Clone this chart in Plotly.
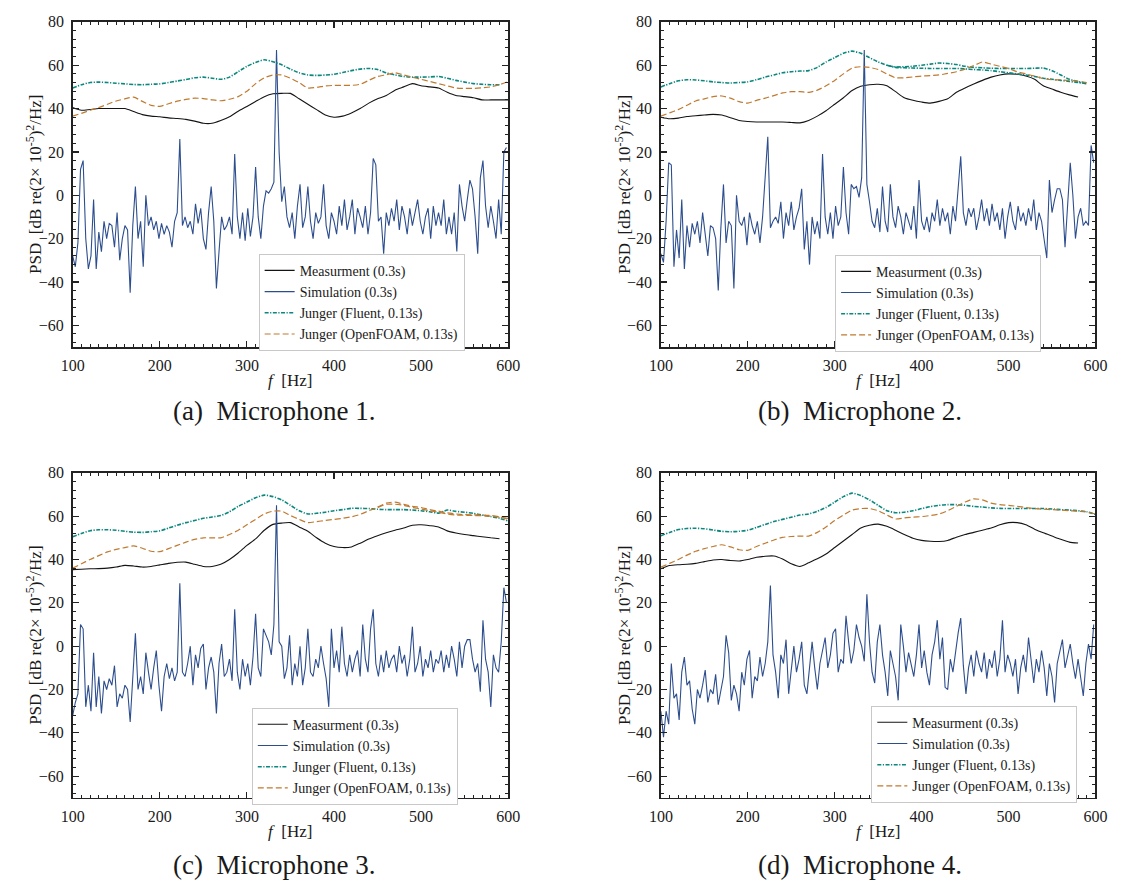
import plotly.graph_objects as go

W, H = 1128, 894

# ---------------- data ----------------
F10 = list(range(100, 601, 10))      # grid of the smooth curves [Hz]
SIM_F = list(range(100, 601, 3))     # grid of the simulated spectra [Hz]

# Microphone 1
meas_a = [40.5, 39.2, 39.6, 40, 40, 40, 40, 38.6, 37.2, 36.5, 36.2, 35.7, 35.4, 35, 34.2, 33.2, 33.2, 34.5, 36.2, 38.8,
          41, 43.3, 45.5, 46.8, 47, 47, 44.5, 42, 39.5, 37, 36, 36.5, 38, 40, 42.5, 44.5, 46, 48.5, 50, 51.5,
          50.5, 50, 49.5, 47.5, 46, 45.5, 45, 44, 44, 44, 44]
flu_a = [49.5, 51, 52, 52.2, 52, 51.7, 51.4, 51.1, 51, 51.2, 51.4, 52, 52.7, 53.4, 54.2, 54.5, 54, 53.5, 54.5, 57,
         59.5, 61.3, 62.5, 61.6, 60.2, 58.2, 56.5, 55.5, 55.3, 55.5, 55.8, 56.6, 57.5, 58.2, 58.5, 58, 56.5, 55.5, 54.8, 54.5,
         54.5, 54.6, 54.8, 54, 53, 52.2, 51.5, 51.2, 51, 51, None]
of_a = [36.5, 37.8, 39.2, 40.5, 42, 43.5, 44.5, 45.3, 43.3, 41.5, 41, 42.2, 43.4, 44.2, 44.8, 44.6, 44, 43.6, 44.3, 45.5,
        48, 51.5, 54.2, 55.5, 55.5, 54, 52, 49.5, 49.8, 50.4, 50.7, 50.7, 50.7, 51.2, 53, 54.8, 55.6, 56.5, 55.5, 54.5,
        53.5, 52.5, 51.5, 50.5, 49.5, 49.3, 49.3, 49.6, 50, 51, 52.5]
sim_a = [-28, -33, -22, 12, 16, -20, -34, -28, -2, -34,
         -17, -26, -12, -20, -13, -14, -24, -8, -30, -20,
         -14, -16, -45, -14, 4, -20, -12, -33, 0, -14,
         -10, -16, -12, -20, -13, -18, -14, -17, -24, -12,
         -8, 26, -14, -10, -15, -12, -18, -4, -13, -6,
         -20, -25, -8, 4, -12, -43, -26, -10, -16, -14,
         -10, -18, 19, -10, -20, -8, -21, -6, -19, -10,
         13, -10, -20, -5, 2, 1, 3, 6, 67, 20,
         -3, 4, -10, -15, -8, -20, -5, 5, -15, -10,
         4, -12, -20, -8, -13, -10, 5, -14, -20, -8,
         -12, -18, -5, -14, -2, -16, -10, -2, -18, -6,
         -10, -15, -5, -18, -8, 17, 14, -12, -10, -27,
         -8, -14, -6, -12, -2, -16, -5, -10, -18, -6,
         -14, -8, -2, -12, -18, -10, -6, -20, -5, -14,
         -8, -14, -2, -18, -10, -18, -8, -26, 5, -5,
         -12, -2, 7, 3, -10, -27, 8, 16, -5, -15,
         -5, -12, -20, -2, -18, 20, 22]

# Microphone 2
meas_b = [36, 35.3, 35.6, 36.3, 36.7, 37, 37.3, 37, 35.8, 34.5, 34, 33.8, 33.8, 33.8, 33.8, 33.6, 33.4, 34.5, 36.5, 39,
          42, 45, 48.3, 50.3, 51, 51.2, 50.5, 47.8, 45, 43.8, 43, 42.5, 43.3, 44.5, 47.5, 49.5, 51.3, 53, 54.5, 55.5,
          56, 55.8, 55, 53.5, 50.5, 49, 47.5, 46.3, 45.3, None, None]
flu_b = [50, 51.5, 52.8, 53.3, 53.2, 52.8, 52.3, 52, 51.8, 52, 52.3, 53.3, 54.5, 55.5, 56.5, 57, 57.3, 57.5, 59, 61.5,
         63.5, 65.5, 66.5, 65.5, 63.5, 61.5, 60, 59.2, 59.3, 59.5, 60, 60.5, 61, 60.8, 60.3, 59.5, 59, 58.8, 58.6, 58.5,
         58.5, 58.5, 58.5, 58.6, 58.7, 57.5, 55.5, 53.5, 52.5, 51.5, None]
flu_b2 = [None] * 26 + [60, 59, 58.8, 58.7, 58.6, 58.5, 58.5, 58.5, 58.5, 58.3, 58, 57.8, 57.5, 57, 56.5,
                        56, 55.5, 54.8, 54, 53.5, 53, 52.5, 52, 51.5, None]
of_b = [36.5, 38, 39.5, 41.5, 43.5, 44.5, 45.5, 45.8, 44.8, 43.2, 42.5, 43.8, 44.8, 46, 47.2, 47.8, 47.8, 47.5, 48.5, 50.5,
        53, 56, 58.7, 59.3, 59, 58, 56, 54.2, 54.2, 54.6, 55, 55.2, 55.5, 56.2, 57, 58.2, 59.8, 61.5, 60.5, 59.5,
        58.5, 57, 56, 55, 53.8, 53.3, 53.2, 53, 52.6, 52, None]
sim_b = [-27, -31, -12, 15, 14, -33, -16, -29, -2, -34,
         -14, -24, -13, -18, -12, -22, -8, -19, -28, -14,
         -15, -20, -44, -15, 5, -22, -12, -14, -43, 0,
         -12, -14, -10, -23, -8, -14, -18, -12, -22, -10,
         10, 27, -15, -12, -10, -13, -3, -20, -8, -14,
         -3, -16, -10, -6, 3, -25, -12, -32, -10, -18,
         -12, -20, 19, -10, -18, -8, -20, -5, -14, -10,
         13, -8, -18, 5, 3, 4, -1, 8, 67, 5,
         -3, -12, -15, -6, -17, 4, -12, -17, 5, -10,
         -15, -5, -10, -18, -8, -12, -16, -5, -20, 7,
         -12, -16, -10, -17, -8, -12, -2, -14, -6, -12,
         -8, -18, -5, -12, 4, 18, -8, -14, -6, -10,
         -6, -16, -10, -2, -12, -6, -14, -4, -12, -8,
         -16, -6, -20, -10, -3, -12, -16, -5, -12, -8,
         -14, -6, -12, -2, -16, -8, -12, -20, -29, 7,
         -8, -2, 3, 3, -2, -24, -4, 15, 0, -20,
         -10, -6, -14, -12, -14, 23, 15]

# Microphone 3
meas_c = [35.3, 35.5, 35.7, 35.8, 36, 36.5, 37.3, 37, 36.5, 36.8, 37.5, 38.2, 38.7, 38.8, 37.8, 36.8, 36.8, 37.8, 40, 43,
          46.5, 49.5, 53.5, 56.2, 56.8, 57, 55, 53, 50, 47.5, 46, 45.5, 45.8, 47.5, 49.5, 51, 52.3, 53.5, 54.5, 55.8,
          56, 55.6, 55, 53.2, 52.2, 51.5, 51, 50.5, 50, 49.6, None]
flu_c = [50.5, 52, 53.3, 53.7, 53.7, 53.5, 53, 52.6, 52.5, 52.8, 53.2, 54.5, 55.8, 57, 58, 59, 59.6, 60.3, 62, 64.5,
         66.5, 68.5, 69.7, 69, 67.5, 65, 62.5, 61, 61.3, 61.8, 62.5, 63, 63.6, 63.6, 63.5, 63.2, 63, 63, 63, 62.8,
         62.5, 62, 61.4, 62.8, 62.2, 61.8, 61.3, 60.5, 59.8, 59, 57.8]
of_c = [36, 38, 40, 41.8, 43.5, 44.7, 45.5, 46.3, 45.2, 43.8, 43.6, 45, 46.5, 48, 49.3, 50, 50, 50, 51.5, 53.5,
        56, 58.5, 61, 62.3, 62.3, 60.3, 58.5, 57, 57.5, 58, 58.5, 59, 59.7, 60.8, 62.5, 64, 65.5, 65.5, 65, 64,
        63.3, 62.5, 61.8, 61, 60.5, 60.4, 60.3, 60.2, 60, 59.5, 59]
of_c2 = [None] * 35 + [64.2, 66, 66.5, 65.5, 64.5, 64, 63, 62.3, 61.5, 61, 60.7, 60.6, 60.5, 60.3, 59.7, 58.5]
sim_c = [-32, -26, -22, 10, 8, -28, -18, -30, -3, -28,
         -14, -31, -16, -20, -15, -18, -9, -28, -22, -24,
         -18, -20, -35, -16, 6, -20, -14, -22, -3, -12,
         -20, -10, -2, -18, -30, -14, -8, -15, -10, -16,
         -12, 29, -12, -14, -8, 0, -18, -4, -10, -1,
         1, -20, -10, -5, -12, -31, -8, 1, -14, -12,
         -6, -16, 17, -12, -20, -6, -14, -8, -18, -5,
         15, -10, -14, 8, 5, 2, -4, 10, 65, 2,
         0, -15, -10, 5, -18, -8, -14, 0, -18, -10,
         8, -12, -14, -6, -10, 0, -8, -15, -28, 8,
         -10, -2, -12, 9, -8, -14, -4, -12, -6, -2,
         -14, 10, -6, -12, 8, 17, -8, -14, -4, -12,
         -2, -10, -6, -4, -12, 0, -8, -4, -14, -6,
         9, -12, -8, 0, -14, -6, -10, -2, -12, -6,
         -8, -2, -12, -4, -10, 0, -6, -14, 2, -10,
         0, 3, 3, -6, -12, -8, -21, 12, -6, -12,
         -28, -4, -10, -12, 2, 27, 20]

# Microphone 4
meas_d = [35.7, 37.2, 37.6, 37.8, 38.2, 39, 39.8, 40, 39.5, 39.3, 40, 41, 41.5, 41.6, 40.2, 38, 36.8, 38.5, 40.3, 42.5,
          45.5, 48.5, 51.5, 54.5, 55.8, 56.3, 55.3, 53.5, 51.5, 49.8, 48.8, 48.4, 48.3, 48.8, 50.3, 51.5, 52.5, 53.5, 54.5, 56,
          57, 57, 56, 54, 52.3, 50.8, 49.3, 48, 47.6, None, None]
flu_d = [51, 52.5, 53.8, 54.3, 54.4, 54.2, 53.6, 53, 52.8, 53, 53.5, 54.8, 56.2, 57.5, 58.5, 59.5, 60.5, 61, 62.3, 64,
         66.5, 69, 70.6, 69.5, 67.5, 65, 62.5, 61.6, 61.8, 62.5, 63.5, 64.4, 65, 65.3, 65.3, 65, 64.5, 64.2, 63.8, 63.6,
         63.5, 63.5, 63.5, 63.5, 63.5, 63.3, 63, 62.8, 62.5, 62, 60.8]
of_d = [36.5, 38.2, 40, 42, 43.8, 45, 46, 46.8, 45.8, 44.5, 44.2, 46, 47.5, 49, 50.2, 50.6, 50.8, 50.8, 52.5, 55,
        58, 60.5, 62.8, 63.5, 63.5, 62.5, 60.5, 58.7, 59.2, 59.5, 59.8, 60.3, 61, 62.5, 64.5, 66.5, 68, 67.5, 66, 65.3,
        65, 64.5, 64, 63.5, 63.2, 63, 62.8, 62.5, 62.3, 62, 61]
sim_d = [-30, -42, -30, -36, -8, -24, -22, -34, -12, -5,
         -18, -16, -29, -36, -20, -24, -18, -11, -26, -20,
         -22, -13, -27, -20, -14, 5, -3, -25, -18, -22,
         -30, -12, -18, -6, -2, -24, -14, -16, -5, -14,
         -8, 2, 28, -4, -12, -24, -4, -8, 3, -22,
         -10, 0, -12, -6, 2, -18, -22, -8, 2, -10,
         -20, -8, -2, 4, -10, -4, 6, 8, -12, -6,
         -8, 14, 2, -8, -2, 10, 4, 0, -7, 24,
         2, -12, -17, 2, 10, -4, -12, -23, -2, -8,
         -14, -25, 10, 0, -12, -3, -8, -14, -4, 10,
         -10, -2, -12, -18, -4, 2, 12, -6, 4, -19,
         -20, -6, -12, -2, 6, 13, -9, -22, -10, -4,
         -14, -2, -8, -12, -3, -15, -6, -10, -2, -14,
         -6, 12, -12, -4, -8, -14, -6, -22, -10, -4,
         -12, 4, -8, -17, -6, -12, -2, -10, -23, -8,
         -14, -26, -8, -2, 3, -10, -4, 1, -8, -15,
         -6, -14, -23, -8, 1, -6, 10]

names = ["Measurment (0.3s)", "Simulation (0.3s)", "Junger (Fluent, 0.13s)", "Junger (OpenFOAM, 0.13s)"]
captions = ["(a)  Microphone 1.", "(b)  Microphone 2.", "(c)  Microphone 3.", "(d)  Microphone 4."]
x_ticks = [100, 200, 300, 400, 500, 600]
y_ticks = [80, 60, 40, 20, 0, -20, -40, -60]

panels = [
    dict(meas=meas_a, flu=[flu_a], of=[of_a], sim=sim_a),
    dict(meas=meas_b, flu=[flu_b, flu_b2], of=[of_b], sim=sim_b),
    dict(meas=meas_c, flu=[flu_c], of=[of_c, of_c2], sim=sim_c),
    dict(meas=meas_d, flu=[flu_d], of=[of_d], sim=sim_d),
]

# ---------------- layout (pixels) ----------------
boxes = [(62, 507, 14, 342), (663, 1107, 14, 342), (62, 507, 469, 797), (663, 1107, 469, 797)]
legend_pos = [(252, 248), (841, 249), (245, 706), (878, 704)]
ytitle_x = [23, 625, 23, 625]
caption_pos = [(268, 407), (866, 407), (268, 865), (866, 865)]

C_MEAS = "#141414"
C_SIM = "#2d4e8e"
C_FLU = "#0a877e"
C_OF = "#bf7a30"
FONT = "Liberation Serif, Times New Roman, serif"

fig = go.Figure()
annotations = []
layout = dict(width=W, height=H, margin=dict(l=0, r=0, t=0, b=0),
              paper_bgcolor="white", plot_bgcolor="white",
              font=dict(family=FONT, size=15, color="#1a1a1a"))

for i, p in enumerate(panels):
    k = "" if i == 0 else str(i + 1)
    xa, ya = "x" + k, "y" + k
    lg = "legend" + k
    x0, x1, y0, y1 = boxes[i]
    layout["xaxis" + k] = dict(
        domain=[x0 / W, x1 / W], anchor=ya, range=[100, 600], tickvals=x_ticks,
        ticks="inside", ticklen=6, tickwidth=1.2, tickcolor="#222", mirror="allticks",
        showline=True, linecolor="#222", linewidth=1.6, showgrid=False, zeroline=False,
        minor=dict(dtick=10, ticks="inside", ticklen=3, tickwidth=1, tickcolor="#222", showgrid=False),
        tickfont=dict(family=FONT, size=16, color="#1a1a1a"), ticklabelstandoff=3)
    layout["yaxis" + k] = dict(
        domain=[1 - y1 / H, 1 - y0 / H], anchor=xa, range=[-70, 80], tickvals=y_ticks,
        ticks="inside", ticklen=6, tickwidth=1.2, tickcolor="#222", mirror="allticks",
        showline=True, linecolor="#222", linewidth=1.6, showgrid=False, zeroline=False,
        minor=dict(dtick=4, ticks="inside", ticklen=3, tickwidth=1, tickcolor="#222", showgrid=False),
        tickfont=dict(family=FONT, size=16, color="#1a1a1a"), ticklabelstandoff=4)
    lx, ly = legend_pos[i]
    layout[lg] = dict(x=lx / W, y=1 - ly / H, xanchor="left", yanchor="top",
                      bgcolor="white", bordercolor="#c8c8c8", borderwidth=1,
                      font=dict(family=FONT, size=14, color="#1a1a1a"),
                      itemwidth=30, tracegroupgap=0)

    fig.add_trace(go.Scatter(x=F10, y=p["meas"], mode="lines", name=names[0],
                             line=dict(color=C_MEAS, width=1.1, shape="spline", smoothing=0.6),
                             xaxis=xa, yaxis=ya, legend=lg, connectgaps=False))
    fig.add_trace(go.Scatter(x=SIM_F, y=p["sim"], mode="lines", name=names[1],
                             line=dict(color=C_SIM, width=1.1),
                             xaxis=xa, yaxis=ya, legend=lg))
    for j, fl in enumerate(p["flu"]):
        fig.add_trace(go.Scatter(x=F10, y=fl, mode="lines", name=names[2], showlegend=(j == 0),
                                 line=dict(color=C_FLU, width=1.6, dash="4px,1.5px,1.2px,1.5px",
                                           shape="spline", smoothing=0.6),
                                 xaxis=xa, yaxis=ya, legend=lg))
    for j, of in enumerate(p["of"]):
        fig.add_trace(go.Scatter(x=F10, y=of, mode="lines", name=names[3], showlegend=(j == 0),
                                 line=dict(color=C_OF, width=1.2, dash="6px,3px",
                                           shape="spline", smoothing=0.6),
                                 xaxis=xa, yaxis=ya, legend=lg))

    # axis titles and caption
    cx = (x0 + x1) / 2
    annotations.append(dict(text="<i>f</i>  [Hz]", x=cx / W, y=1 - (y1 + 34) / H, xref="paper", yref="paper",
                            showarrow=False, xanchor="center", yanchor="middle",
                            font=dict(family=FONT, size=17, color="#1a1a1a")))
    annotations.append(dict(text="PSD  [dB re(2\u00d7 10<sup>-5</sup>)<sup>2</sup>/Hz]",
                            x=ytitle_x[i] / W, y=1 - ((y0 + y1) / 2) / H, xref="paper", yref="paper",
                            showarrow=False, textangle=-90, xanchor="center", yanchor="middle",
                            font=dict(family=FONT, size=17, color="#1a1a1a")))
    cpx, cpy = caption_pos[i]
    annotations.append(dict(text=captions[i], x=cpx / W, y=1 - cpy / H, xref="paper", yref="paper",
                            showarrow=False, xanchor="center", yanchor="middle",
                            font=dict(family=FONT, size=27, color="#1a1a1a")))

layout["annotations"] = annotations
fig.update_layout(**layout)
fig.write_html("out.html", config={"displayModeBar": False, "staticPlot": True},
               post_script="document.body.style.margin='0';document.body.style.overflow='hidden';")
